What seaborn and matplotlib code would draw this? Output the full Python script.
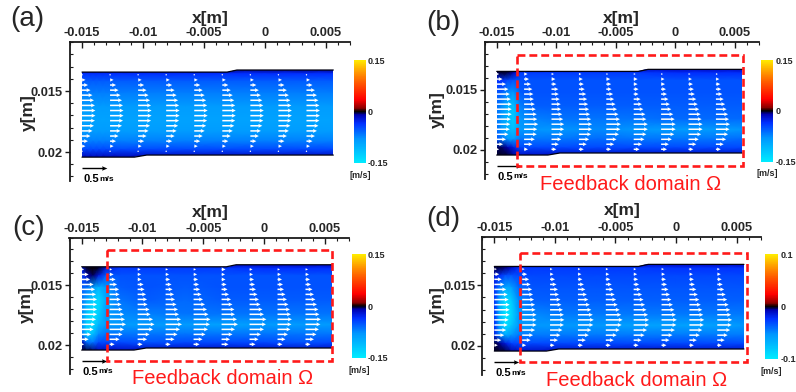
import numpy as np
import matplotlib
matplotlib.use("Agg")
import matplotlib.pyplot as plt
import seaborn as sns
from matplotlib.colors import LinearSegmentedColormap, Normalize
from matplotlib.patches import Rectangle, Polygon
from matplotlib.ticker import MultipleLocator

sns.set_theme(style="white")
plt.rcParams["font.family"] = ["Liberation Sans", "DejaVu Sans"]

# ---------------- data ----------------
PANEL_LABELS = ["(a)", "(b)", "(c)", "(d)"]
X_TICKS = [-0.015, -0.01, -0.005, 0.0, 0.005]
X_TICK_LABELS = ["-0.015", "-0.01", "-0.005", "0", "0.005"]
Y_TICKS = [0.015, 0.02]
Y_TICK_LABELS = ["0.015", "0.02"]
CBAR_LIMITS = [0.15, 0.15, 0.15, 0.1]
CBAR_LABELS = [["-0.15", "0", "0.15"], ["-0.15", "0", "0.15"],
               ["-0.15", "0", "0.15"], ["-0.1", "0", "0.1"]]
FEEDBACK_TEXT = "Feedback domain Ω"
KEY_SPEED = 0.5  # m/s reference vector

# arrow grid (PIV columns / rows)
COL_X = [-0.0150, -0.0127, -0.0104, -0.0081, -0.0058, -0.0035, -0.0012, 0.0011, 0.0034]
ROW_Y = [0.01367, 0.01409, 0.01451, 0.01493, 0.01534, 0.01576, 0.01618, 0.01660,
         0.01702, 0.01743, 0.01785, 0.01827, 0.01869, 0.01911, 0.01952, 0.01994]

# (a) every column shows the same profile
U_A_PROFILE = [0.0, 0.07, 0.12, 0.17, 0.21, 0.24, 0.26, 0.27, 0.27, 0.26, 0.24, 0.21, 0.17, 0.12, 0.07, 0.0]

U_B = [
    [0.05, 0.12, 0.19, 0.24, 0.27, 0.29, 0.31, 0.31, 0.31, 0.29, 0.28, 0.27, 0.24, 0.19, 0.13, 0.05],
    [0.07, 0.10, 0.14, 0.17, 0.19, 0.20, 0.22, 0.24, 0.26, 0.27, 0.29, 0.27, 0.26, 0.22, 0.17, 0.08],
    [0.05, 0.08, 0.10, 0.14, 0.15, 0.17, 0.19, 0.20, 0.22, 0.24, 0.26, 0.26, 0.24, 0.20, 0.15, 0.10],
    [0.05, 0.08, 0.10, 0.12, 0.15, 0.17, 0.19, 0.21, 0.23, 0.25, 0.27, 0.27, 0.25, 0.21, 0.16, 0.10],
    [0.04, 0.08, 0.10, 0.11, 0.14, 0.16, 0.19, 0.22, 0.25, 0.28, 0.30, 0.29, 0.26, 0.21, 0.16, 0.10],
    [0.04, 0.08, 0.08, 0.10, 0.10, 0.14, 0.17, 0.20, 0.24, 0.26, 0.29, 0.29, 0.26, 0.22, 0.17, 0.12],
    [0.04, 0.07, 0.08, 0.10, 0.12, 0.15, 0.18, 0.21, 0.25, 0.28, 0.30, 0.30, 0.27, 0.22, 0.16, 0.12],
    [0.04, 0.07, 0.09, 0.11, 0.13, 0.16, 0.19, 0.22, 0.25, 0.27, 0.29, 0.29, 0.26, 0.21, 0.16, 0.10],
    [0.04, 0.07, 0.09, 0.11, 0.13, 0.16, 0.19, 0.22, 0.25, 0.27, 0.29, 0.28, 0.25, 0.21, 0.16, 0.10],
]
U_C = [
    [0.05, 0.14, 0.17, 0.24, 0.27, 0.29, 0.31, 0.31, 0.31, 0.31, 0.29, 0.27, 0.24, 0.19, 0.14, 0.05],
    [0.05, 0.08, 0.12, 0.15, 0.19, 0.20, 0.22, 0.24, 0.26, 0.29, 0.31, 0.33, 0.29, 0.26, 0.20, 0.10],
    [0.06, 0.07, 0.08, 0.12, 0.14, 0.17, 0.19, 0.20, 0.24, 0.26, 0.31, 0.34, 0.31, 0.24, 0.19, 0.10],
    [0.05, 0.07, 0.09, 0.12, 0.14, 0.17, 0.19, 0.22, 0.25, 0.27, 0.31, 0.33, 0.29, 0.24, 0.18, 0.10],
    [0.05, 0.07, 0.09, 0.11, 0.13, 0.16, 0.19, 0.23, 0.27, 0.30, 0.34, 0.33, 0.29, 0.24, 0.18, 0.12],
    [0.08, 0.07, 0.08, 0.10, 0.12, 0.15, 0.19, 0.22, 0.26, 0.27, 0.31, 0.33, 0.27, 0.22, 0.17, 0.14],
    [0.06, 0.07, 0.09, 0.11, 0.13, 0.16, 0.19, 0.22, 0.26, 0.29, 0.34, 0.33, 0.29, 0.23, 0.18, 0.12],
    [0.05, 0.07, 0.09, 0.11, 0.13, 0.16, 0.19, 0.22, 0.25, 0.27, 0.29, 0.28, 0.26, 0.21, 0.16, 0.10],
    [0.05, 0.07, 0.09, 0.11, 0.14, 0.17, 0.20, 0.23, 0.26, 0.28, 0.31, 0.30, 0.27, 0.22, 0.17, 0.10],
]
U_D = [
    [0.05, 0.10, 0.15, 0.20, 0.24, 0.27, 0.29, 0.31, 0.31, 0.31, 0.29, 0.27, 0.24, 0.20, 0.14, 0.07],
    [0.05, 0.10, 0.14, 0.17, 0.20, 0.22, 0.24, 0.26, 0.27, 0.29, 0.29, 0.29, 0.26, 0.22, 0.17, 0.08],
    [0.05, 0.07, 0.10, 0.13, 0.16, 0.18, 0.21, 0.23, 0.26, 0.28, 0.29, 0.28, 0.25, 0.21, 0.16, 0.09],
    [0.05, 0.07, 0.09, 0.12, 0.15, 0.18, 0.21, 0.24, 0.27, 0.30, 0.32, 0.31, 0.27, 0.22, 0.16, 0.10],
    [0.05, 0.07, 0.09, 0.12, 0.15, 0.18, 0.21, 0.24, 0.28, 0.31, 0.34, 0.32, 0.28, 0.22, 0.16, 0.10],
    [0.05, 0.07, 0.09, 0.11, 0.14, 0.17, 0.20, 0.23, 0.26, 0.29, 0.31, 0.31, 0.27, 0.22, 0.16, 0.10],
    [0.05, 0.07, 0.09, 0.11, 0.14, 0.17, 0.20, 0.23, 0.26, 0.29, 0.31, 0.30, 0.27, 0.22, 0.16, 0.10],
    [0.05, 0.07, 0.09, 0.11, 0.14, 0.17, 0.20, 0.23, 0.26, 0.28, 0.30, 0.29, 0.26, 0.21, 0.15, 0.09],
    [0.05, 0.07, 0.09, 0.11, 0.14, 0.17, 0.20, 0.23, 0.26, 0.28, 0.30, 0.29, 0.26, 0.21, 0.15, 0.09],
]

# background colour field (sampled nodes)
FIELD_X = [-0.0150, -0.0146, -0.0141, -0.0136, -0.0130, -0.0118, -0.0095, -0.0065, -0.0035, 0.0000, 0.0030, 0.0056]
FIELD_Y = [0.0132, 0.0136, 0.0142, 0.0152, 0.0163, 0.0174, 0.0183, 0.0191, 0.0198, 0.0205]
FIELD_A_PROFILE = [-0.008, -0.035, -0.055, -0.07, -0.085, -0.09, -0.085, -0.07, -0.045, -0.01]
FIELD_B = [
    [-0.002, -0.002, -0.002, -0.004, -0.01, -0.015, -0.015, -0.015, -0.015, -0.012, -0.012, -0.012],
    [-0.005, -0.003, -0.004, -0.012, -0.04, -0.04, -0.04, -0.04, -0.04, -0.035, -0.035, -0.035],
    [-0.035, -0.035, -0.045, -0.05, -0.05, -0.05, -0.05, -0.05, -0.05, -0.05, -0.05, -0.05],
    [-0.05, -0.055, -0.075, -0.08, -0.055, -0.05, -0.05, -0.05, -0.05, -0.05, -0.05, -0.05],
    [-0.06, -0.075, -0.10, -0.115, -0.07, -0.055, -0.055, -0.055, -0.055, -0.055, -0.055, -0.055],
    [-0.065, -0.085, -0.105, -0.125, -0.08, -0.07, -0.065, -0.065, -0.065, -0.06, -0.06, -0.06],
    [-0.06, -0.08, -0.10, -0.115, -0.085, -0.08, -0.08, -0.075, -0.08, -0.085, -0.085, -0.08],
    [-0.05, -0.065, -0.08, -0.085, -0.065, -0.065, -0.065, -0.06, -0.065, -0.065, -0.065, -0.06],
    [-0.005, -0.005, -0.01, -0.025, -0.045, -0.045, -0.045, -0.045, -0.045, -0.045, -0.045, -0.045],
    [-0.002, -0.002, -0.002, -0.008, -0.015, -0.015, -0.015, -0.015, -0.015, -0.015, -0.015, -0.015],
]
FIELD_C = [
    [-0.003, -0.002, -0.002, -0.002, -0.01, -0.015, -0.015, -0.015, -0.015, -0.012, -0.012, -0.012],
    [-0.025, -0.003, 0.0, -0.003, -0.025, -0.04, -0.04, -0.04, -0.04, -0.035, -0.035, -0.035],
    [-0.04, -0.015, -0.005, -0.025, -0.055, -0.05, -0.05, -0.05, -0.05, -0.05, -0.05, -0.05],
    [-0.055, -0.065, -0.085, -0.105, -0.085, -0.055, -0.05, -0.055, -0.05, -0.05, -0.05, -0.05],
    [-0.065, -0.095, -0.125, -0.135, -0.095, -0.065, -0.055, -0.06, -0.055, -0.055, -0.055, -0.055],
    [-0.075, -0.115, -0.145, -0.125, -0.085, -0.075, -0.07, -0.065, -0.065, -0.065, -0.065, -0.065],
    [-0.075, -0.125, -0.135, -0.105, -0.085, -0.085, -0.085, -0.085, -0.09, -0.085, -0.085, -0.085],
    [-0.065, -0.125, -0.115, -0.075, -0.065, -0.065, -0.065, -0.065, -0.065, -0.065, -0.065, -0.065],
    [-0.01, -0.06, -0.065, -0.045, -0.045, -0.045, -0.05, -0.045, -0.045, -0.045, -0.05, -0.045],
    [-0.002, -0.003, -0.006, -0.012, -0.015, -0.015, -0.015, -0.015, -0.015, -0.015, -0.015, -0.015],
]
FIELD_D = [
    [-0.002, -0.002, -0.002, -0.004, -0.008, -0.01, -0.01, -0.01, -0.01, -0.008, -0.008, -0.008],
    [-0.003, -0.003, -0.005, -0.012, -0.024, -0.026, -0.026, -0.026, -0.026, -0.024, -0.024, -0.024],
    [-0.014, -0.022, -0.032, -0.034, -0.03, -0.03, -0.03, -0.03, -0.03, -0.03, -0.03, -0.03],
    [-0.022, -0.045, -0.065, -0.06, -0.04, -0.034, -0.034, -0.034, -0.034, -0.034, -0.034, -0.034],
    [-0.022, -0.06, -0.092, -0.085, -0.05, -0.038, -0.037, -0.037, -0.037, -0.037, -0.037, -0.037],
    [-0.022, -0.065, -0.097, -0.09, -0.055, -0.05, -0.045, -0.045, -0.045, -0.045, -0.045, -0.045],
    [-0.022, -0.06, -0.092, -0.08, -0.055, -0.055, -0.055, -0.055, -0.06, -0.06, -0.06, -0.055],
    [-0.017, -0.045, -0.065, -0.055, -0.045, -0.045, -0.045, -0.045, -0.045, -0.045, -0.045, -0.045],
    [-0.002, -0.005, -0.015, -0.028, -0.03, -0.03, -0.03, -0.03, -0.03, -0.03, -0.03, -0.03],
    [-0.001, -0.001, -0.002, -0.006, -0.01, -0.01, -0.01, -0.01, -0.01, -0.01, -0.01, -0.01],
]

# channel walls
TOP_WALL_X = [-0.0150, -0.0031, -0.0023, 0.0056]
TOP_WALL_Y = [0.01345, 0.01345, 0.01328, 0.01328]
BOT_WALL_X = [-0.0150, -0.0107, -0.0097, 0.0056]
BOT_WALL_Y = [0.02042, 0.02042, 0.02025, 0.02025]

# feedback domain boxes (x0, y0, x1, y1)
BOXES = [None, (-0.01333, 0.01208, 0.0057, 0.02133),
         (-0.01289, 0.01204, 0.0056, 0.02134),
         (-0.01288, 0.01236, 0.00583, 0.02132)]

# ---------------- style / layout ----------------
CMAP_POS = [0.0, 0.233, 0.383, 0.467, 0.5, 0.533, 0.617, 0.783, 0.883, 1.0]
CMAP_COL = ["#00ebff", "#0096ff", "#0030ff", "#0000b0", "#000000",
            "#8c0000", "#ff0000", "#ff5a00", "#ff9900", "#ffeb00"]
CMAP = LinearSegmentedColormap.from_list("tec", list(zip(CMAP_POS, CMAP_COL)))

W, H = 796, 392
AX_BOX = [(69.8, 42.2, 350.4, 181.3), (484.8, 42.0, 758.8, 178.8),
          (69.5, 237.5, 349.3, 373.7), (482.2, 236.7, 760.9, 375.1)]
CB_BOX = [(354, 60, 366, 163), (760.7, 60, 773.3, 161.7),
          (351.7, 254.3, 366, 357.7), (765, 254.3, 778.3, 358.7)]
LABEL_POS = [(27.5, 19.5), (443.5, 22.5), (28.5, 227.5), (443.5, 218.5)]
XLABEL_POS = [(210, 19), (621.5, 19), (210.5, 213), (622.5, 211)]
YLABEL_POS = [(28, 113), (437.5, 109.5), (26, 305), (437.5, 305)]
FEED_POS = [None, (631, 184), (222.5, 379), (636.5, 380)]
ARROW_SCALE = 245.0  # (m/s) per metre of drawing
RED = "#ff1a1a"


def rect(b):
    x0, y0, x1, y1 = b
    return [x0 / W, 1 - y1 / H, (x1 - x0) / W, (y1 - y0) / H]


fig = plt.figure(figsize=(W / 100, H / 100), dpi=100)

U_ALL = [np.tile(np.array(U_A_PROFILE), (len(COL_X), 1)), np.array(U_B), np.array(U_C), np.array(U_D)]
F_ALL = [np.tile(np.array(FIELD_A_PROFILE)[:, None], (1, len(FIELD_X))),
         np.array(FIELD_B), np.array(FIELD_C), np.array(FIELD_D)]

XX, YY = np.meshgrid(COL_X, ROW_Y, indexing="ij")
FX, FY = np.meshgrid(FIELD_X, FIELD_Y)
CHANNEL = list(zip(TOP_WALL_X, TOP_WALL_Y)) + list(zip(BOT_WALL_X[::-1], BOT_WALL_Y[::-1]))

for i in range(4):
    lim = CBAR_LIMITS[i]
    norm = Normalize(-lim, lim)
    ax = fig.add_axes(rect(AX_BOX[i]))
    ax.set_facecolor("white")

    mesh = ax.pcolormesh(FX, FY, F_ALL[i], shading="gouraud", cmap=CMAP, norm=norm, zorder=1)
    clip = Polygon(CHANNEL, closed=True, transform=ax.transData)
    mesh.set_clip_path(clip)
    ax.plot(TOP_WALL_X, TOP_WALL_Y, color="#000010", lw=0.9, zorder=2.5)
    ax.plot(BOT_WALL_X, BOT_WALL_Y, color="#000010", lw=0.9, zorder=2.5)

    U = U_ALL[i]
    ax.quiver(XX, YY, U, np.zeros_like(U), color="white", angles="xy",
              scale_units="xy", scale=ARROW_SCALE, pivot="tail",
              width=0.0055, headwidth=2.6, headlength=2.6, headaxislength=2.3,
              zorder=3)
    # reference vector
    ax.quiver([COL_X[0]], [0.0213], [KEY_SPEED], [0.0], color="black", angles="xy",
              scale_units="xy", scale=ARROW_SCALE, pivot="tail",
              width=0.005, headwidth=3.2, headlength=3.8, headaxislength=3.4,
              zorder=3, clip_on=False)
    ax.text(-0.0149, 0.02225, "0.5", ha="left", va="center", fontsize=8,
            fontweight="bold", color="black", clip_on=False)
    ax.text(-0.0136, 0.02225, "m/s", ha="left", va="center", fontsize=6,
            fontweight="bold", color="black", clip_on=False)

    if BOXES[i] is not None:
        x0, y0, x1, y1 = BOXES[i]
        ax.add_patch(Rectangle((x0, y0), x1 - x0, y1 - y0, fill=False,
                               edgecolor=RED, lw=1.9, linestyle=(0, (3.0, 1.5)),
                               zorder=5, clip_on=False))
        fx, fy = FEED_POS[i]
        fig.text(fx / W, 1 - fy / H, FEEDBACK_TEXT, color=RED, fontsize=14.5,
                 ha="center", va="center")

    ax.set_xlim(-0.016, 0.007)
    ax.set_ylim(0.0224, 0.011)
    for s in ["right", "bottom"]:
        ax.spines[s].set_visible(False)
    for s in ["top", "left"]:
        ax.spines[s].set_visible(True)
        ax.spines[s].set_color("#1a1a1a")
        ax.spines[s].set_linewidth(1.3)
    ax.xaxis.tick_top()
    ax.set_xticks(X_TICKS, labels=X_TICK_LABELS, fontweight="bold", fontsize=9.3)
    ax.set_yticks(Y_TICKS, labels=Y_TICK_LABELS, fontweight="bold", fontsize=9.3)
    ax.xaxis.set_minor_locator(MultipleLocator(0.001))
    ax.yaxis.set_minor_locator(MultipleLocator(0.001))
    ax.tick_params(axis="x", which="both", top=True, bottom=False, labeltop=True,
                   labelbottom=False, direction="in", color="#1a1a1a")
    ax.tick_params(axis="x", which="major", length=4, width=1, pad=2)
    ax.tick_params(axis="x", which="minor", length=2.5, width=0.8)
    ax.tick_params(axis="y", which="both", left=True, right=False, color="#1a1a1a")
    ax.tick_params(axis="y", which="major", direction="out", length=3.5, width=1, pad=1.5)
    ax.tick_params(axis="y", which="minor", direction="in", length=2.5, width=0.8)
    ax.grid(False)

    # labels
    lx, ly = LABEL_POS[i]
    fig.text(lx / W, 1 - ly / H, PANEL_LABELS[i], fontsize=20, ha="center", va="center")
    xx, xy = XLABEL_POS[i]
    fig.text(xx / W, 1 - xy / H, "x[m]", fontsize=12.5, fontweight="bold", ha="center", va="center")
    yx, yy = YLABEL_POS[i]
    fig.text(yx / W, 1 - yy / H, "y[m]", fontsize=12.5, fontweight="bold", ha="center",
             va="center", rotation=90)

    # colour bar
    cax = fig.add_axes(rect(CB_BOX[i]))
    sm = plt.cm.ScalarMappable(norm=norm, cmap=CMAP)
    cb = fig.colorbar(sm, cax=cax)
    cb.outline.set_visible(False)
    cb.set_ticks([-lim, 0, lim])
    cb.set_ticklabels(CBAR_LABELS[i])
    cax.tick_params(length=0, pad=1.5, labelsize=6.5)
    for t in cax.get_yticklabels():
        t.set_fontweight("bold")
    cax.text(0.5, -0.12, "[m/s]", transform=cax.transAxes, ha="center", va="center",
             fontsize=6.5, fontweight="bold")

fig.savefig("out.png", dpi=100)
